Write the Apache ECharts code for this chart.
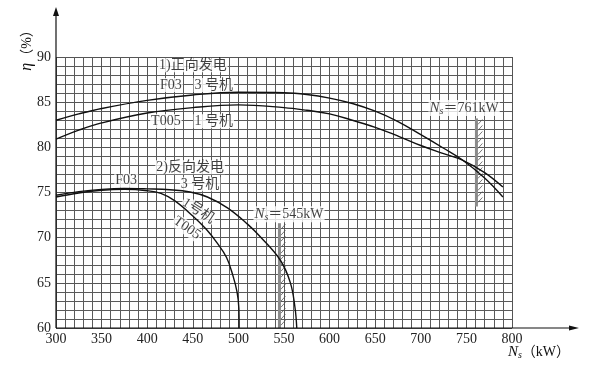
<!DOCTYPE html>
<html><head><meta charset="utf-8">
<script src="https://cdn.jsdelivr.net/npm/echarts@6/dist/echarts.min.js"></script>
<style>html,body{margin:0;padding:0;background:#fff}#c{width:591px;height:366px}</style>
</head><body><div id="c"></div>
<script>
// ---- data ----
const xTicks = [300, 350, 400, 450, 500, 550, 600, 650, 700, 750, 800];
const yTicks = [60, 65, 70, 75, 80, 85, 90];

// 1) 正向发电 (forward generation)
const fwdF03 = [[300,83.0],[325,83.7],[350,84.3],[400,85.2],[450,85.8],[500,86.1],[550,86.05],[575,85.85],[600,85.45],[625,84.85],[650,84.0],[675,82.85],[700,81.4],[725,79.9],[745,78.65],[770,76.6],[790,74.5]];
const fwdT005 = [[300,80.9],[325,81.9],[350,82.7],[400,83.8],[450,84.4],[500,84.7],[550,84.4],[575,84.1],[600,83.7],[625,83.0],[650,82.2],[675,81.25],[700,80.2],[725,79.3],[745,78.6],[770,77.2],[790,75.6]];

// 2) 反向发电 (reverse generation)
const revF03 = [[300,74.7],[325,75.1],[350,75.35],[375,75.45],[400,75.4],[425,75.3],[447,75.05],[466,74.5],[488,73.3],[510,71.5],[524,70.1],[546,67.5],[557,65.0],[562,62.3],[564,60]];
const revT005 = [[300,74.5],[325,74.95],[350,75.25],[375,75.35],[400,75.2],[415,74.9],[430,74.1],[450,72.4],[465,70.9],[476,69.5],[487,67.8],[494,65.8],[498.5,64.0],[500.5,62.2],[500.8,60]];

// hatched limit lines: [Ns, bottom η, top η]
const limits = [[761, 73.45, 83.2], [545, 60, 71.6]];

// text annotations: [x, y, text, rotate]
const notes = [
  [450, 89.1, '1)正向发电', 0],
  [426, 86.9, 'F03', 0],
  [473, 86.9, '3 号机', 0],
  [420.5, 82.9, 'T005', 0],
  [473, 82.9, '1 号机', 0],
  [447, 77.8, '2)反向发电', 0],
  [377, 76.3, 'F03', 0],
  [458, 75.9, '3 号机', 0],
  [456, 72.95, '1号机', -33],
  [443.5, 71.07, 'T005', -35],
  [747.5, 84.35, '{n|N}{s|s}{t|＝761kW}', 0],
  [555.5, 72.6, '{n|N}{s|s}{t|＝545kW}', 0]
];

const serif = '"Liberation Serif", "Noto Sans CJK SC", serif';
const chart = echarts.init(document.getElementById('c'), null, {renderer: 'canvas'});

function curve(d) {
  return {type: 'line', data: d, smooth: 0.4, symbol: 'none', silent: true,
    lineStyle: {color: '#111', width: 1.4}, z: 5};
}

const rich = {
  n: {fontFamily: serif, fontStyle: 'italic', fontSize: 15, color: '#111'},
  s: {fontFamily: serif, fontStyle: 'italic', fontSize: 10, color: '#111', padding: [6, 0, 0, 0]},
  t: {fontFamily: serif, fontSize: 14, color: '#111'}
};

chart.setOption({
  animation: false,
  grid: {left: 56, right: 79, top: 57, bottom: 38},
  xAxis: {
    type: 'value', min: xTicks[0], max: xTicks[xTicks.length - 1], interval: 50,
    axisLine: {show: false}, axisTick: {show: false},
    axisLabel: {fontFamily: serif, fontSize: 14, color: '#222', margin: 4},
    splitLine: {show: true, lineStyle: {color: '#555', width: 1}},
    minorTick: {show: false, splitNumber: 5},
    minorSplitLine: {show: true, lineStyle: {color: '#5a5a5a', width: 1}}
  },
  yAxis: {
    type: 'value', min: yTicks[0], max: yTicks[yTicks.length - 1], interval: 5,
    axisLine: {show: false}, axisTick: {show: false},
    axisLabel: {fontFamily: serif, fontSize: 14, color: '#222', margin: 5},
    splitLine: {show: true, lineStyle: {color: '#555', width: 1}},
    minorTick: {show: false, splitNumber: 5},
    minorSplitLine: {show: true, lineStyle: {color: '#5a5a5a', width: 1}}
  },
  series: [
    curve(fwdF03), curve(fwdT005), curve(revF03), curve(revT005),
    {
      type: 'custom', data: limits, silent: true, z: 4,
      renderItem: function (params, api) {
        const x = api.value(0);
        const b = api.coord([x, api.value(1)]);
        const t = api.coord([x, api.value(2)]);
        const children = [{
          type: 'line', shape: {x1: b[0], y1: b[1], x2: t[0], y2: t[1]},
          style: {stroke: '#8a8a8a', lineWidth: 3}
        }];
        for (let y = t[1] + 6; y <= b[1]; y += 6) {
          children.push({type: 'line', shape: {x1: b[0] + 1.5, y1: y, x2: b[0] + 6, y2: y - 5},
            style: {stroke: '#555', lineWidth: 0.8}});
        }
        return {type: 'group', children: children};
      }
    },
    {
      type: 'scatter', symbolSize: 0, silent: true, z: 3,
      data: notes.map(n => ({
        value: [n[0], n[1]],
        label: {
          show: true, position: 'inside', formatter: n[2], rotate: n[3],
          fontFamily: serif, fontSize: 14, color: '#111',
          backgroundColor: '#fff', padding: [0, 1], rich: rich
        }
      }))
    }
  ]
});

// axis lines with arrows
const o = chart.convertToPixel({gridIndex: 0}, [300, 60]);
const yTop = 7, xEnd = 579;
chart.setOption({
  graphic: [
    {type: 'line', shape: {x1: o[0], y1: o[1], x2: o[0], y2: yTop + 6}, style: {stroke: '#111', lineWidth: 1.2}, z: 20},
    {type: 'polygon', shape: {points: [[o[0] - 3, yTop + 9], [o[0], yTop], [o[0] + 3, yTop + 9]]}, style: {fill: '#111'}, z: 20},
    {type: 'line', shape: {x1: o[0], y1: o[1], x2: xEnd - 6, y2: o[1]}, style: {stroke: '#111', lineWidth: 1.2}, z: 20},
    {type: 'polygon', shape: {points: [[xEnd - 10, o[1] - 2.5], [xEnd, o[1]], [xEnd - 10, o[1] + 2.5]]}, style: {fill: '#111'}, z: 20},
    {type: 'text', x: 27, y: 47, rotation: Math.PI / 2,
      style: {text: '{e|η}{p|（%）}', align: 'center', verticalAlign: 'middle',
        rich: {e: {fontFamily: serif, fontStyle: 'italic', fontSize: 16, fill: '#111'},
               p: {fontFamily: serif, fontSize: 14, fill: '#111'}}}},
    {type: 'text', x: 539, y: 352,
      style: {text: '{n|N}{s|s}{t|（kW）}', align: 'center', verticalAlign: 'middle',
        rich: {n: {fontFamily: serif, fontStyle: 'italic', fontSize: 15, fill: '#111'},
               s: {fontFamily: serif, fontStyle: 'italic', fontSize: 10, fill: '#111', padding: [6, 0, 0, 0]},
               t: {fontFamily: serif, fontSize: 14, fill: '#111'}}}}
  ]
});
</script></body></html>
